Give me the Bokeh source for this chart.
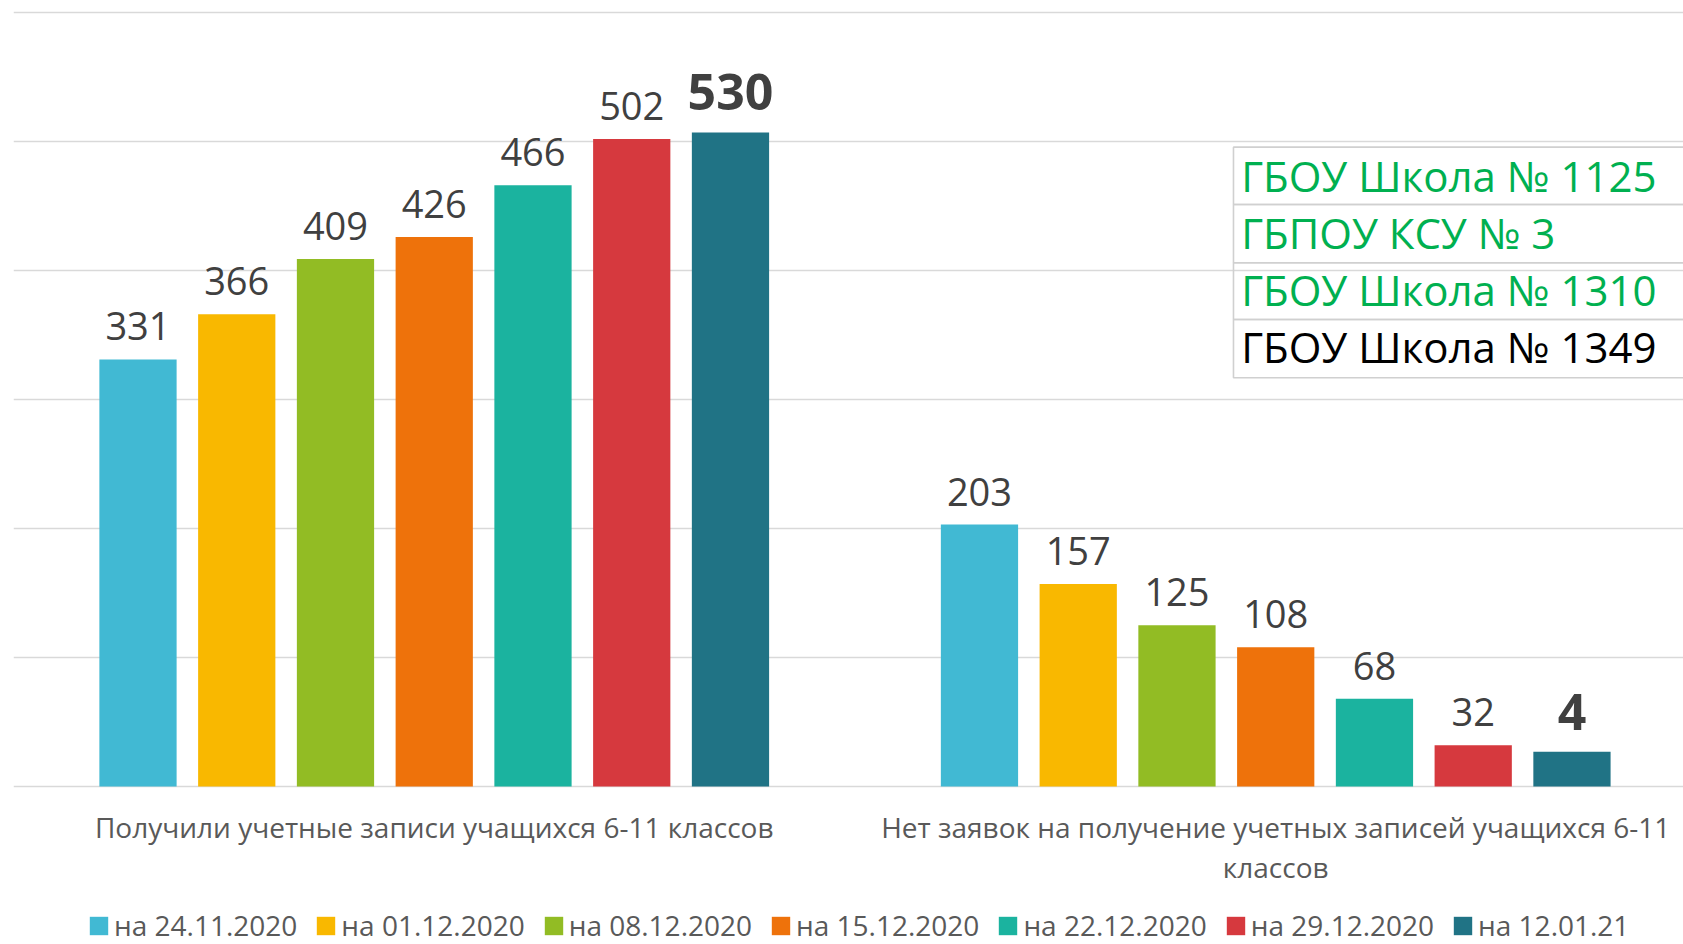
from bokeh.plotting import figure
from bokeh.models import ColumnDataSource, Range1d, FixedTicker, LabelSet, Legend, LegendItem
from bokeh.transform import dodge
from bokeh.embed import file_html
from bokeh.resources import INLINE
from bokeh.core.properties import value

# ---------------- data ----------------
categories = [
    "Получили учетные записи учащихся 6-11 классов",
    "Нет заявок на получение учетных записей учащихся 6-11 классов",
]
dates = ["на 24.11.2020", "на 01.12.2020", "на 08.12.2020", "на 15.12.2020",
         "на 22.12.2020", "на 29.12.2020", "на 12.01.21"]
# bar heights as drawn in the picture
received = [331, 366, 409, 426, 466, 502, 507]
no_requests = [203, 157, 125, 108, 68, 32, 27]
# data labels as printed above the bars
received_labels = ["331", "366", "409", "426", "466", "502", "530"]
no_requests_labels = ["203", "157", "125", "108", "68", "32", "4"]
y_ticks = [0, 100, 200, 300, 400, 500, 600]
box_names = ["ГБОУ Школа № 1125", "ГБПОУ КСУ № 3", "ГБОУ Школа № 1310", "ГБОУ Школа № 1349"]

# ---------------- styles ----------------
colors = ["#41B9D3", "#F9B800", "#92BC24", "#EE720B", "#1BB39F", "#D6393E", "#207385"]
box_colors = ["#00B050", "#00B050", "#00B050", "#000000"]
FONT = "Open Sans"

W, H = 1683, 944
p = figure(width=W, height=H, x_range=Range1d(-0.5, 1.4846), y_range=Range1d(-122.5, 609.3),
           output_backend="svg", toolbar_location=None,
           min_border_left=13, min_border_right=0, min_border_top=0, min_border_bottom=0)
p.outline_line_color = None
p.background_fill_color = "white"
p.border_fill_color = "white"

p.xaxis.visible = False
p.yaxis.visible = False
p.xgrid.visible = False
p.ygrid.ticker = FixedTicker(ticks=y_ticks)
p.ygrid.grid_line_color = "#d9d9d9"
p.ygrid.grid_line_width = 1.6

step = 0.11735
bar_w = 0.0918
items = []
for i, d in enumerate(dates):
    off = (i - 3) * step
    src = ColumnDataSource(dict(x=[0, 1], top=[received[i], no_requests[i]],
                                label=[received_labels[i], no_requests_labels[i]]))
    r = p.vbar(x=dodge("x", off, range=p.x_range), top="top", width=bar_w, bottom=0,
               source=src, fill_color=colors[i], line_color=None)
    items.append(LegendItem(label=d, renderers=[r]))
    last = i == len(dates) - 1
    labels = LabelSet(x=dodge("x", off, range=p.x_range), y="top", text="label", source=src,
                      text_align="center", text_baseline="alphabetic",
                      y_offset=22 if last else 19,
                      text_font=value(FONT), text_font_size="50px" if last else "38px",
                      text_font_style="bold" if last else "normal",
                      text_color="#404040")
    p.add_layout(labels)

# category labels under the groups (second one wrapped onto two lines)
wrap_at = categories[1].rfind(" ")
cat_src = ColumnDataSource(dict(x=[0, 1, 1], y=[0, 0, 0],
                                text=[categories[0], categories[1][:wrap_at],
                                      categories[1][wrap_at + 1:]],
                                dy=[-22, -22, -62]))
p.add_layout(LabelSet(x="x", y="y", text="text", source=cat_src, text_align="center",
                      text_baseline="top", y_offset="dy", text_font=value(FONT),
                      text_font_size="28px", text_color="#595959"))

# school box (annotation)
row_edges = [495.6, 451.2, 406.0, 362.0, 316.8]
p.quad(left=[0.9498] * 4, right=[1.6] * 4, top=row_edges[:-1], bottom=row_edges[1:],
       fill_color=None, line_color="#d0d0d0", line_width=1.6)
box_src = ColumnDataSource(dict(x=[0.9589] * 4, y=[460.5, 416.3, 372.1, 327.9],
                                text=box_names, color=box_colors))
p.add_layout(LabelSet(x="x", y="y", text="text", source=box_src, text_color="color",
                      text_font=value(FONT), text_font_size="42px",
                      text_baseline="alphabetic", text_align="left"))

legend = Legend(items=items, orientation="horizontal", location=(74, 0),
                glyph_width=23, glyph_height=23, label_standoff=4, spacing=17,
                padding=2, margin=0, border_line_color=None, background_fill_alpha=0,
                label_text_font=FONT, label_text_font_size="28px", label_text_color="#595959")
p.add_layout(legend, "center")

open("out.html", "w").write(file_html(p, INLINE))
